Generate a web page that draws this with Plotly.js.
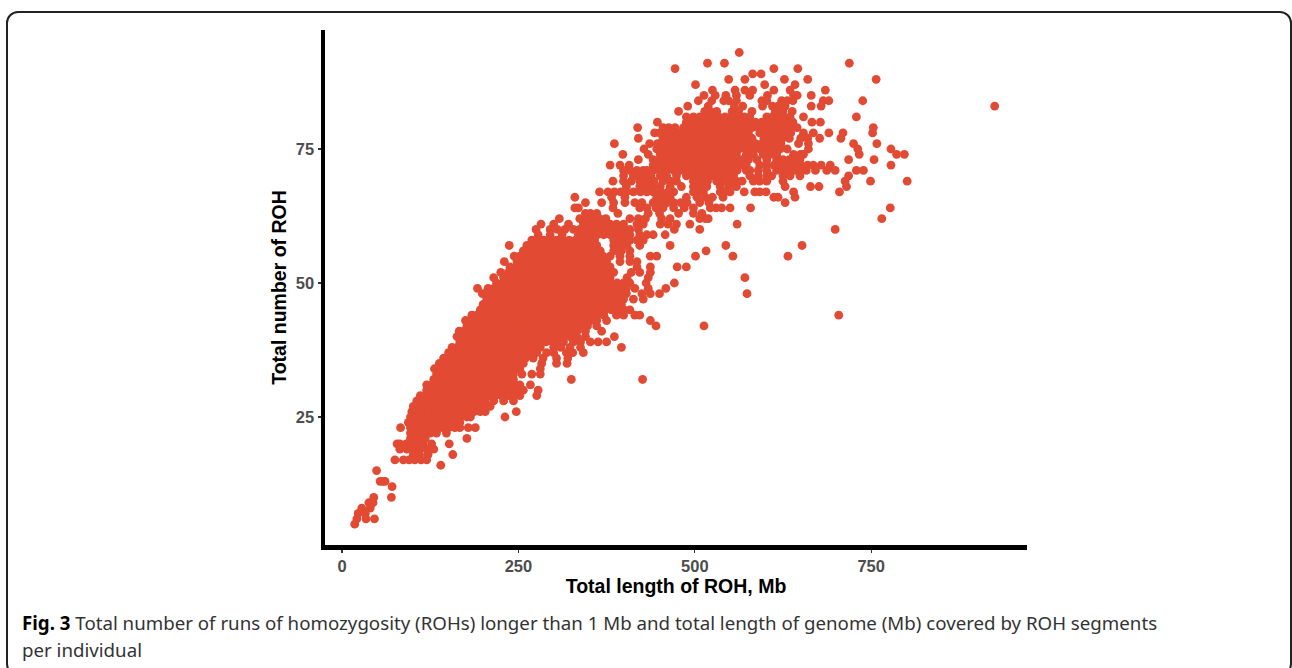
<!DOCTYPE html>
<html>
<head>
<meta charset="utf-8">
<script src="https://cdn.plot.ly/plotly-3.0.1.min.js"></script>
<style>
html,body{margin:0;padding:0;background:#fff;overflow:hidden}
#frame{position:absolute;left:6px;top:11px;width:1286px;height:665px;border:2px solid #222;border-radius:12px;box-sizing:border-box}
#chart{position:absolute;left:0;top:0;width:1292px;height:668px}
</style>
</head>
<body>
<div id="frame"></div>
<div id="chart"></div>
<script>
const rocCounts = [93,91,90,89,88,87,86,85,84,83,82,81,80,79,78,77,76,75,74,73,72,71,70,69,68,67,66,65,64,63,62,61,60,59,58,57,56,55,54,53,52,51,50,49,48,47,46,45,44,43,42,41,40,39,38,37,36,35,34,33,32,31,30,29,28,27,26,25,24,23,22,21,20,19,18,17,16,15,13,12,10,9,8,7,6,5];
const rocLengths = [
[563],
[518,542,719],
[472,612,646],
[582,594],
[548,571,627,660,757],
[501,599,642],
[525,557,571,582,612,635,685],
[513,529,544,559,578,603,640,645,665],
[505,524,541,548,559,595,602,623,631,639,682,690,738],
[490,519,556,568,596,610,618,628,665,679,925],
[477,514,522,531,553,562,581,614,625,638],
[488,498,507,516,525,534,543,552,561,570,578,602,610,618,626,635,654,729],
[447,488,496,505,514,523,532,541,550,559,568,577,586,595,604,613,622,631,639,666,678],
[419,455,463,472,484,491,500,509,518,527,536,545,554,563,572,581,590,599,608,617,626,636,645,753],
[443,450,459,468,477,486,495,504,513,522,531,540,549,558,567,576,592,601,610,618,628,636,654,668,690,710,752],
[420,455,464,473,482,491,500,509,518,527,536,545,554,563,572,581,598,606,616,624,634,650,660,677,707],
[386,436,447,451,460,469,478,487,496,505,514,523,532,541,550,559,568,577,586,595,604,613,622,647,661,725,758],
[428,446,455,464,473,482,491,500,509,518,527,536,545,554,563,572,581,592,602,612,621,631,661,731,778],
[398,434,451,460,469,478,487,496,505,514,523,532,541,550,559,573,583,597,607,616,640,650,654,733,786,797],
[420,441,450,459,468,477,486,495,504,513,522,531,540,549,558,567,576,588,602,616,625,634,642,649,718,754],
[380,394,407,441,450,459,468,477,486,495,504,513,522,531,540,549,558,567,573,592,602,612,620,630,640,650,660,668,679,692,778],
[399,408,418,427,432,441,450,460,470,479,488,497,506,515,524,533,542,551,560,573,578,590,602,616,625,634,642,651,658,671,687,699,729,739],
[399,413,418,428,438,451,460,474,488,497,507,516,525,531,540,550,555,578,590,602,609,625,635,649,718],
[384,399,410,422,432,442,455,465,474,498,508,518,531,540,550,559,567,583,592,602,625,713,749,801],
[403,422,432,441,451,465,481,498,508,517,536,548,559,628,664,676,715],
[365,377,386,395,403,413,423,432,441,452,462,470,498,505,512,536,543,550,570,585,592,601,640,705],
[330,382,401,446,456,465,488,503,515,525,540,612,618,642],
[345,368,385,401,415,425,441,450,461,470,480,489,507,520,628],
[330,335,384,422,432,445,455,470,485,498,522,530,538,550,579,777],
[345,352,361,391,434,450,477,498,510],
[308,337,346,355,365,374,408,420,430,453,465,507,515,519,765],
[282,300,321,342,351,360,369,380,389,399,418,427,451,462,474,493,560],
[275,295,305,316,328,337,346,355,364,373,382,391,400,408,420,471,507,699],
[278,295,312,335,344,353,362,371,380,389,398,408,422,432,441,458],
[269,277,286,295,304,313,322,331,340,349,358,385,394,403,408,418,427],
[237,262,271,280,289,298,307,316,325,334,343,352,361,385,394,404,422,465,544,652],
[257,266,275,284,293,302,311,320,329,338,347,356,366,385,396,408,516],
[244,252,261,270,279,288,297,306,315,324,333,342,351,360,370,380,394,408,437,446,501,554,632],
[230,248,257,266,275,284,293,302,311,320,329,338,347,356,365,375,394,408,418],
[238,247,256,265,274,283,292,301,310,319,328,337,346,355,364,373,380,418,437,475,488],
[225,236,243,252,261,270,279,288,297,306,315,324,333,342,351,360,369,378,385,410,422,437],
[215,229,238,247,256,265,274,283,292,301,310,319,328,337,346,355,364,373,380,404,434,571],
[219,228,237,246,255,264,273,282,291,300,309,318,327,336,345,354,363,372,381,390,399,408,431,471],
[192,207,215,224,233,242,251,260,269,278,287,296,305,314,323,332,341,350,359,368,377,386,395,403,415,434,459],
[199,205,214,223,232,241,250,259,268,277,286,295,304,313,322,331,340,349,358,367,376,385,394,403,425,437,450,574],
[205,210,219,228,237,246,255,264,273,282,291,300,309,318,327,336,345,354,363,372,381,390,399,413,427],
[200,206,215,224,233,242,251,260,269,278,287,296,305,314,323,332,341,350,359,368,377,385,396],
[196,202,211,220,229,238,247,256,265,274,283,292,301,310,319,328,337,346,355,364,373,382,391,400,408],
[184,191,200,209,218,227,236,245,254,263,272,281,290,299,308,317,326,335,344,353,362,371,389,399,415,422,704],
[175,182,190,199,208,217,226,235,244,253,262,271,280,289,298,307,316,325,334,343,352,361,375,437],
[177,186,195,204,213,222,231,240,249,258,267,276,285,294,303,312,321,330,339,348,361,445,513],
[166,172,181,190,199,208,217,226,235,244,253,262,271,280,289,298,307,316,325,333,345,368],
[163,172,177,186,195,204,213,222,231,240,249,258,267,276,285,294,303,312,323,333,345,386],
[167,172,181,190,199,208,217,226,235,244,253,262,271,280,289,298,307,314,328,338,352,363,375],
[156,163,172,181,190,199,208,217,226,235,244,253,262,271,281,300,310,323,338,396],
[151,159,168,177,186,195,204,213,222,231,240,249,258,267,276,290,300,318,327,342],
[144,152,161,170,179,188,197,206,215,224,233,242,251,260,271,285,304,320],
[138,146,155,164,173,182,191,200,209,218,227,236,245,257,283,304,319],
[131,139,148,157,166,175,184,193,202,211,220,229,238,247,252,281],
[134,143,152,161,170,179,188,197,206,215,224,233,243,255,269,281],
[130,138,147,156,165,174,183,192,201,210,219,228,236,243,325,426],
[120,127,136,145,154,163,172,181,190,199,208,217,226,235,244,252,267],
[120,129,138,147,156,165,174,183,192,201,210,219,228,237,246,257,278],
[111,118,127,136,145,154,163,172,181,190,199,208,217,226,235,244,252,276],
[106,113,122,131,140,149,158,167,176,185,194,203,215,229,243],
[101,109,118,127,136,145,154,163,172,181,190,199,210],
[99,106,115,124,133,142,151,160,169,178,187,196,203,247],
[97,105,114,123,132,141,150,159,168,177,182,231],
[94,102,111,120,129,138,147,156,167],
[83,97,106,115,124,133,142,151,160,167,179,189],
[97,107,116,125,134,148],
[97,106,112,118,177],
[78,82,91,100,109,115,127,152],
[82,92,101,110,120,130],
[101,110,122,157],
[75,87,95,103,112,120],
[140],
[49],
[54,58,61],
[71],
[45,70],
[38,44],
[28,40],
[23,33],
[21,34,46],
[18]
];
const xTickValues = [0,250,500,750];
const yTickValues = [25,50,75];
const xTitle = "Total length of ROH, Mb";
const yTitle = "Total number of ROH";

const xs = [], ys = [];
rocCounts.forEach((c, i) => rocLengths[i].forEach(v => { xs.push(v); ys.push(c); }));

const W = 702, L = 325;
const px = p => (p - L) / W;
const H = 515, T = 30;
const py = p => (T + H - p) / H;

Plotly.newPlot('chart', [{
  type: 'scatter', mode: 'markers', x: xs, y: ys,
  marker: {color: '#E24A33', size: 8.8, line: {width: 0}},
  hoverinfo: 'x+y', cliponaxis: false
}], {
  width: 1292, height: 668,
  margin: {l: L, r: 1292 - L - W, t: T, b: 668 - T - H, pad: 0},
  paper_bgcolor: 'rgba(0,0,0,0)', plot_bgcolor: 'rgba(0,0,0,0)',
  showlegend: false,
  xaxis: {
    range: [-24.1, 970.8], tickvals: xTickValues, ticktext: xTickValues.map(String),
    showgrid: false, zeroline: false, showline: true, linecolor: '#000', linewidth: 4.5,
    ticks: 'outside', ticklen: 3, tickwidth: 1.2, tickcolor: '#333',
    tickfont: {family: 'Liberation Sans', size: 16.5, color: '#4D4D4D', weight: 'bold'},
    title: {text: xTitle, font: {family: 'Liberation Sans', size: 19.5, color: '#000', weight: 'bold'}, standoff: 6},
    automargin: false
  },
  yaxis: {
    range: [1.12, 97.2], tickvals: yTickValues, ticktext: yTickValues.map(String),
    showgrid: false, zeroline: false, showline: true, linecolor: '#000', linewidth: 4.5,
    ticks: 'outside', ticklen: 3, tickwidth: 1.2, tickcolor: '#333',
    tickfont: {family: 'Liberation Sans', size: 16.5, color: '#4D4D4D', weight: 'bold'},
    title: {text: yTitle, font: {family: 'Liberation Sans', size: 19.5, color: '#000', weight: 'bold'}, standoff: 5},
    automargin: false
  },
  annotations: [
    {xref: 'paper', yref: 'paper', x: px(20), y: py(622), xanchor: 'left', yanchor: 'middle', showarrow: false,
     align: 'left', font: {family: 'Noto Sans', size: 18.7, color: '#333'},
     text: '<b style="color:#000">Fig. 3</b> Total number of runs of homozygosity (ROHs) longer than 1 Mb and total length of genome (Mb) covered by ROH segments'},
    {xref: 'paper', yref: 'paper', x: px(20), y: py(649), xanchor: 'left', yanchor: 'middle', showarrow: false,
     align: 'left', font: {family: 'Noto Sans', size: 18.7, color: '#333'},
     text: 'per individual'}
  ]
}, {displayModeBar: false, staticPlot: true});
</script>
</body>
</html>
